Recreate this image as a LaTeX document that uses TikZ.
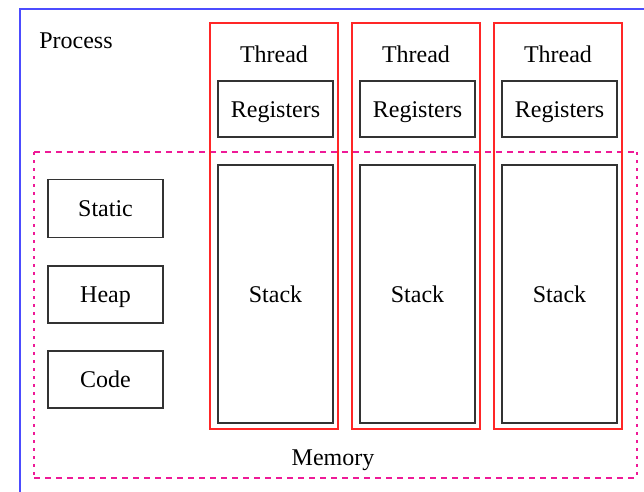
\documentclass[tikz,border=0pt]{standalone}
\usepackage{fontspec}
\setmainfont{Liberation Serif}
\begin{document}
\begin{tikzpicture}[x=1pt,y=-1pt,
  lbl/.style={font=\fontsize{24}{28}\selectfont, inner sep=0pt,
    text height=16pt, text depth=0pt},
  partbox/.style={draw=black!80, line width=1.6pt, inner sep=0pt, lbl},
  threadbox/.style={draw=red!85, line width=1.6pt, inner sep=0pt,
    minimum width=128pt, minimum height=406pt},
  memh/.style={draw=magenta!90, line width=1.6pt, dash pattern=on 6pt off 5pt},
  memv/.style={draw=magenta!90, line width=1.6pt, dash pattern=on 3pt off 5pt}]
\useasboundingbox (0,0) rectangle (644,491);
\clip (0,0) rectangle (644,491);
\fill[white] (0,0) rectangle (644,491);

% process outline (runs past the page edge)
\draw[blue!70, line width=1.6pt] (20,9) rectangle (700,560);
\node[lbl] (process) at (76,40) {Process};

% memory region
\coordinate (m1) at (34,152);
\coordinate (m2) at (637,152);
\coordinate (m3) at (637,478);
\coordinate (m4) at (34,478);
\draw[memh] (m1) -- (m2);
\draw[memh] (m4) -- (m3);
\draw[memv] (m1) -- (m4);
\draw[memv] (m2) -- (m3);
\node[lbl] (memory) at (333,457) {Memory};

% shared segments
\node[partbox, minimum width=115pt, minimum height=58pt] (static) at (105.5,208.5) {Static};
\node[partbox, minimum width=115pt, minimum height=57pt] (heap) at (105.5,294.5) {Heap};
\node[partbox, minimum width=115pt, minimum height=57pt] (code) at (105.5,379.5) {Code};

% threads
\foreach \i/\cx in {1/274, 2/416, 3/558} {
  \node[threadbox] (thread\i) at (\cx,226) {};
  \node[lbl] (tlabel\i) at (\cx,54) {Thread};
  \node[partbox, minimum width=115pt, minimum height=56pt] (regs\i) at (\cx+1.5,109) {Registers};
  \node[partbox, minimum width=115pt, minimum height=258pt] (stack\i) at (\cx+1.5,294) {Stack};
}
\end{tikzpicture}
\end{document}
